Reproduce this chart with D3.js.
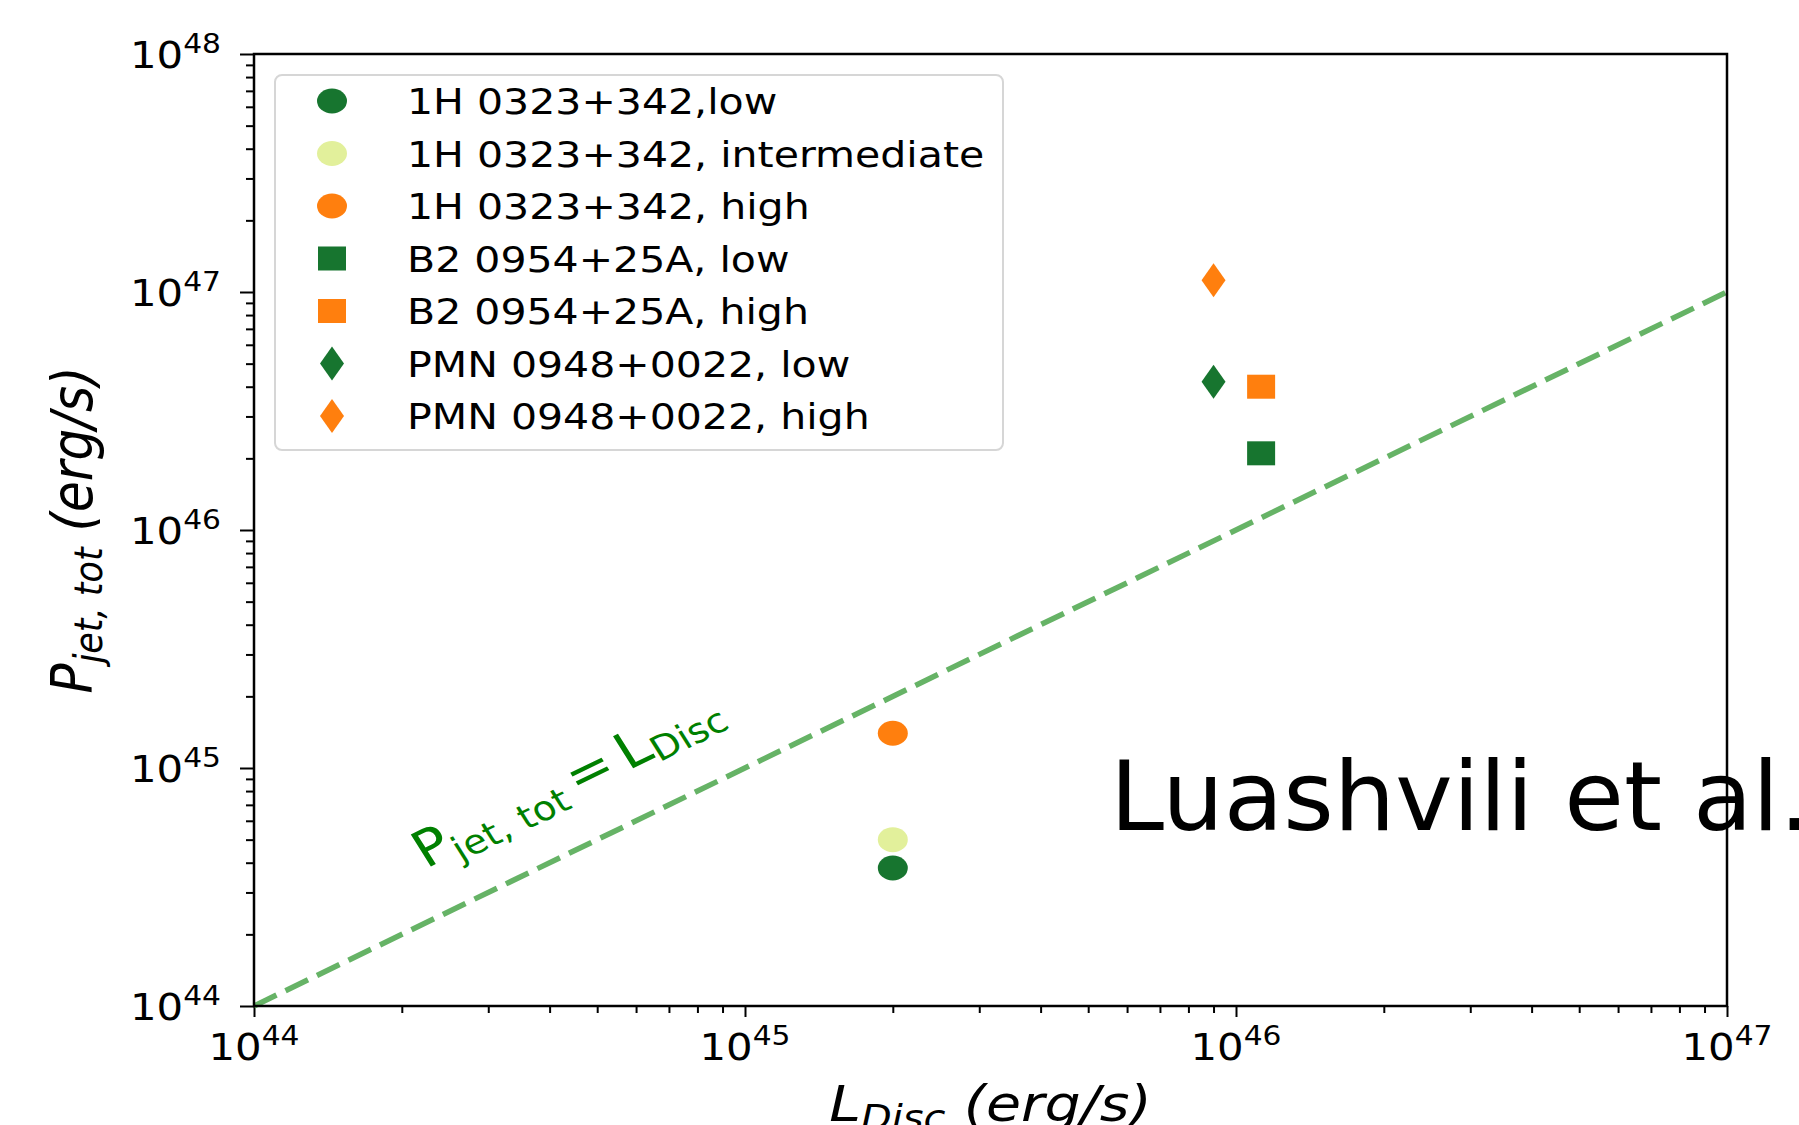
<!DOCTYPE html>
<html><head><meta charset="utf-8">
<script src="https://cdn.jsdelivr.net/npm/d3@7"></script>
<style>body{margin:0;background:#fff} svg{display:block} text{white-space:pre}</style>
</head><body><svg id="c" width="1799" height="1125"></svg>
<script>
// ---------- data ----------
const seriesLabels = [
  "1H 0323+342,low",
  "1H 0323+342, intermediate",
  "1H 0323+342, high",
  "B2 0954+25A, low",
  "B2 0954+25A, high",
  "PMN 0948+0022, low",
  "PMN 0948+0022, high"
];
const lDisc = [2.0e45, 2.0e45, 2.0e45, 1.125e46, 1.125e46, 9.0e45, 9.0e45];
const pJet  = [3.8e44, 5.0e44, 1.4e45, 2.1e46, 4.0e46, 4.2e46, 1.12e47];
const xMajorExp = [44, 45, 46, 47];
const yMajorExp = [44, 45, 46, 47, 48];
const equalityLine = [1e44, 1e47];
const annotationAt = 2.24e44;
const creditText = "Luashvili et al.";

// ---------- styles ----------
const DG = "#17752f", LG = "#e2f09b", OR = "#ff7f0e";
const markerStyle = [
  {shape:"circle", color:DG}, {shape:"circle", color:LG}, {shape:"circle", color:OR},
  {shape:"square", color:DG}, {shape:"square", color:OR},
  {shape:"diamond", color:DG}, {shape:"diamond", color:OR}
];
const FONT = "'DejaVu Sans', sans-serif";
const SX = 1.14;
const TSX = 1.1;

const W = 1799, H = 1125;
const L = 254, R = 1727, T = 54, B = 1006;
const svg = d3.select("#c");
svg.append("rect").attr("width", W).attr("height", H).attr("fill", "#fff");

const x = d3.scaleLog().domain([1e44, 1e47]).range([L, R]);
const y = d3.scaleLog().domain([1e44, 1e48]).range([B, T]);

function minors(exps){
  const out = [];
  for (let i = 0; i < exps.length - 1; i++)
    for (let k = 2; k <= 9; k++) out.push(k * Math.pow(10, exps[i]));
  return out;
}
const xMajor = xMajorExp.map(e => Number("1e" + e));
const yMajor = yMajorExp.map(e => Number("1e" + e));

// ---------- ticks ----------
function tickGroup(gen, tr){
  const g = svg.append("g").attr("transform", tr).call(gen);
  g.selectAll(".domain").remove();
  g.selectAll(".tick line").attr("stroke", "#000").attr("stroke-width", 2);
  return g;
}
tickGroup(d3.axisBottom(x).tickValues(minors(xMajorExp)).tickSize(7).tickFormat(""), `translate(0,${B})`);
tickGroup(d3.axisBottom(x).tickValues(xMajor).tickSize(11).tickFormat(""), `translate(0,${B})`);
tickGroup(d3.axisLeft(y).tickValues(minors(yMajorExp)).tickSize(8).tickFormat(""), `translate(${L},0)`);
tickGroup(d3.axisLeft(y).tickValues(yMajor).tickSize(14).tickFormat(""), `translate(${L},0)`);

// tick labels
const xl = svg.append("g").selectAll("text").data(xMajorExp).join("text")
  .attr("transform", e => `translate(${x(Number("1e" + e))},${B + 54}) scale(${TSX},1)`)
  .attr("text-anchor", "middle").attr("font-family", FONT).attr("font-size", 38).attr("fill", "#000");
xl.append("tspan").text("10");
xl.append("tspan").attr("font-size", 27).attr("dy", -15).text(e => e);

const yl = svg.append("g").selectAll("text").data(yMajorExp).join("text")
  .attr("transform", e => `translate(${L - 33},${y(Number("1e" + e)) + 14}) scale(${TSX},1)`)
  .attr("text-anchor", "end").attr("font-family", FONT).attr("font-size", 38).attr("fill", "#000");
yl.append("tspan").text("10");
yl.append("tspan").attr("font-size", 27).attr("dy", -15).text(e => e);

// ---------- equality line ----------
svg.append("path")
  .attr("d", d3.line().x(d => x(d)).y(d => y(d))(equalityLine))
  .attr("fill", "none").attr("stroke", "#66b366").attr("stroke-width", 5.5)
  .attr("stroke-dasharray", "25,10");

// annotation
const angScreen = Math.atan2(y(1e44) - y(1e47), x(1e47) - x(1e44));
const angOrig = Math.atan(Math.tan(angScreen) * SX) * 180 / Math.PI;
const ann = svg.append("text")
  .attr("transform", `translate(${x(annotationAt)},${y(annotationAt) - 54}) scale(${SX},1) rotate(${-angOrig})`)
  .attr("font-family", FONT).attr("font-size", 50).attr("fill", "#008000");
ann.append("tspan").text("P");
ann.append("tspan").attr("font-size", 34).attr("dy", 9).text("jet, tot");
ann.append("tspan").attr("dy", -9).attr("dx", 9).text("=");
ann.append("tspan").attr("dx", 9).text("L");
ann.append("tspan").attr("font-size", 34).attr("dy", 6).text("Disc");

// ---------- markers ----------
function marker(g, cx, cy, st){
  if (st.shape === "circle")
    g.append("ellipse").attr("cx", cx).attr("cy", cy).attr("rx", 15).attr("ry", 12.5).attr("fill", st.color);
  else if (st.shape === "square")
    g.append("rect").attr("x", cx - 14).attr("y", cy - 12).attr("width", 28).attr("height", 24).attr("fill", st.color);
  else
    g.append("path").attr("d", `M${cx},${cy - 17}L${cx + 12},${cy}L${cx},${cy + 17}L${cx - 12},${cy}Z`).attr("fill", st.color);
}
const gm = svg.append("g");
seriesLabels.forEach((s, i) => marker(gm, x(lDisc[i]), y(pJet[i]), markerStyle[i]));

// ---------- legend ----------
const lg = svg.append("g");
lg.append("rect").attr("x", 275).attr("y", 75).attr("width", 728).attr("height", 375).attr("rx", 7)
  .attr("fill", "#fff").attr("fill-opacity", 0.8).attr("stroke", "#d6d6d6").attr("stroke-width", 2);
seriesLabels.forEach((s, i) => {
  const cy = 101 + i * 52.5;
  marker(lg, 332, cy, markerStyle[i]);
  lg.append("text").attr("transform", `translate(407,${cy + 13}) scale(${SX},1)`)
    .attr("font-family", FONT).attr("font-size", 36).attr("fill", "#000").text(s);
});

// ---------- axis labels ----------
const ylab = svg.append("text")
  .attr("transform", `translate(92,${(T + B) / 2}) scale(${SX},1) rotate(-90)`)
  .attr("text-anchor", "middle").attr("font-family", FONT).attr("font-style", "italic")
  .attr("font-size", 50).attr("fill", "#000");
ylab.append("tspan").text("P");
ylab.append("tspan").attr("font-size", 35).attr("dy", 9).text("jet, tot");
ylab.append("tspan").attr("dy", -9).text(" (erg/s)");

const xlab = svg.append("text")
  .attr("transform", `translate(${(L + R) / 2},1121) scale(${SX},1)`)
  .attr("text-anchor", "middle").attr("font-family", FONT).attr("font-style", "italic")
  .attr("font-size", 50).attr("fill", "#000");
xlab.append("tspan").text("L");
xlab.append("tspan").attr("font-size", 35).attr("dy", 9).text("Disc");
xlab.append("tspan").attr("dy", -9).text(" (erg/s)");

// ---------- credit ----------
svg.append("text").attr("x", 1110).attr("y", 830)
  .attr("font-family", FONT).attr("font-size", 97).attr("fill", "#000").text(creditText);

// ---------- spines ----------
svg.append("rect").attr("x", L).attr("y", T).attr("width", R - L).attr("height", B - T)
  .attr("fill", "none").attr("stroke", "#000").attr("stroke-width", 2.5);
</script></body></html>
